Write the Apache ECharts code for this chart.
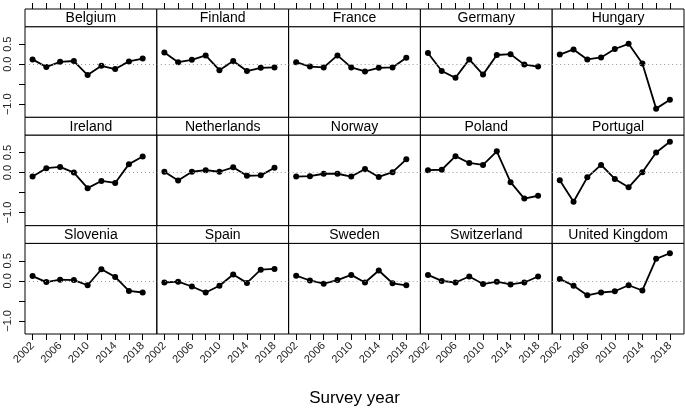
<!DOCTYPE html>
<html><head><meta charset="utf-8">
<script src="https://cdn.jsdelivr.net/npm/echarts@6/dist/echarts.min.js"></script>
<style>html,body{margin:0;padding:0;background:#fff}#c{width:685px;height:409px}</style>
</head><body><div id="c"></div>
<script>
const years = [2002, 2004, 2006, 2008, 2010, 2012, 2014, 2016, 2018];
const xTickValues = [2002, 2004, 2006, 2008, 2010, 2012, 2014, 2016, 2018];
const xLabelValues = [2002, 2006, 2010, 2014, 2018];
const yTickValues = [-1.0, -0.5, 0.0, 0.5];
const yLabelValues = [-1.0, 0.0, 0.5];
const countries = ["Belgium","Finland","France","Germany","Hungary",
  "Ireland","Netherlands","Norway","Poland","Portugal",
  "Slovenia","Spain","Sweden","Switzerland","United Kingdom"];
const belgium     = [0.12, -0.07, 0.06, 0.08, -0.27, -0.04, -0.12, 0.07, 0.14];
const finland     = [0.29, 0.05, 0.11, 0.22, -0.15, 0.08, -0.17, -0.09, -0.08];
const france      = [0.05, -0.06, -0.08, 0.22, -0.08, -0.18, -0.09, -0.08, 0.16];
const germany     = [0.28, -0.17, -0.34, 0.12, -0.26, 0.23, 0.25, -0.01, -0.06];
const hungary     = [0.24, 0.37, 0.12, 0.17, 0.38, 0.51, 0.02, -1.11, -0.89];
const ireland     = [-0.10, 0.11, 0.14, 0.00, -0.39, -0.21, -0.26, 0.21, 0.40];
const netherlands = [0.02, -0.20, 0.02, 0.06, 0.02, 0.13, -0.08, -0.07, 0.12];
const norway      = [-0.10, -0.09, -0.03, -0.03, -0.10, 0.09, -0.11, 0.01, 0.33];
const poland      = [0.06, 0.07, 0.41, 0.24, 0.19, 0.53, -0.24, -0.65, -0.58];
const portugal    = [-0.19, -0.73, -0.12, 0.19, -0.16, -0.37, 0.01, 0.50, 0.77];
const slovenia    = [0.12, -0.03, 0.03, 0.02, -0.11, 0.29, 0.10, -0.25, -0.29];
const spain       = [-0.04, -0.02, -0.14, -0.29, -0.12, 0.16, -0.05, 0.28, 0.30];
const sweden      = [0.13, 0.01, -0.07, 0.02, 0.15, -0.04, 0.26, -0.06, -0.11];
const switzerland = [0.15, 0.00, -0.04, 0.11, -0.08, -0.02, -0.09, -0.04, 0.11];
const uk          = [0.05, -0.12, -0.36, -0.29, -0.26, -0.11, -0.24, 0.55, 0.69];
const allValues = [belgium, finland, france, germany, hungary, ireland, netherlands,
  norway, poland, portugal, slovenia, spain, sweden, switzerland, uk];

const FONT = '"Liberation Sans", Arial, Helvetica, sans-serif';
const L0 = 25, R0 = 684, TOP = 9, BOT = 334;
const colW = (R0 - L0) / 5;
const rowH = (BOT - TOP) / 3;
const stripH = 17.7;
const plotH = rowH - stripH;
const XMIN = 2000.9, XMAX = 2020.05;

const grids = [], xAxes = [], yAxes = [], series = [], graphics = [];
for (let k = 0; k < 15; k++) {
  const r = Math.floor(k / 5), c = k % 5;
  const left = L0 + c * colW;
  const stripTop = TOP + r * rowH;
  const plotTop = stripTop + stripH;
  grids.push({left: left, top: plotTop, width: colW, height: plotH,
    show: true, borderColor: '#000', borderWidth: 1, backgroundColor: 'transparent'});
  const bottomRow = r === 2;
  xAxes.push({type: 'value', gridIndex: k, min: XMIN, max: XMAX, position: 'bottom',
    splitLine: {show: false}, axisLine: {show: false, onZero: false},
    axisTick: {show: bottomRow, length: 6, inside: false, customValues: xTickValues,
      lineStyle: {color: '#000', width: 1}},
    axisLabel: {show: bottomRow, rotate: 45, margin: 10, fontSize: 11, color: '#222',
      fontFamily: FONT, customValues: xLabelValues, formatter: v => String(v)}});
  yAxes.push({type: 'value', gridIndex: k, min: -1.3275, max: 0.9375,
    splitLine: {show: false}, axisLine: {show: false, onZero: false},
    axisTick: {show: c === 0, length: 6, inside: false, customValues: yTickValues,
      lineStyle: {color: '#000', width: 1}},
    axisLabel: {show: c === 0, rotate: 90, margin: 12, fontSize: 11, color: '#222',
      fontFamily: FONT, customValues: yLabelValues,
      formatter: v => (v < 0 ? '\u22121.0' : v.toFixed(1))}});
  series.push({type: 'line', xAxisIndex: k, yAxisIndex: k,
    data: years.map((y, i) => [y, allValues[k][i]]),
    symbol: 'circle', symbolSize: 6, showSymbol: true,
    lineStyle: {color: '#000', width: 1.8}, itemStyle: {color: '#000'},
    markLine: {silent: true, symbol: 'none', label: {show: false},
      lineStyle: {color: '#999', type: [1, 3], width: 1},
      data: [{yAxis: 0}]}});
  graphics.push({type: 'text', x: left + colW / 2, y: stripTop + stripH / 2 + 0.5, z: 11,
    style: {text: countries[k], fill: '#000', font: '14px ' + FONT,
      textAlign: 'center', textVerticalAlign: 'middle'}});
}
// strip grids (headers); top row carries the top ticks
for (let k = 0; k < 15; k++) {
  const r = Math.floor(k / 5), c = k % 5;
  const left = L0 + c * colW;
  const stripTop = TOP + r * rowH;
  const gi = grids.length;
  grids.push({left: left, top: stripTop, width: colW, height: stripH,
    show: true, borderColor: '#000', borderWidth: 1, backgroundColor: '#fff'});
  xAxes.push({type: 'value', gridIndex: gi, min: XMIN, max: XMAX, position: 'top',
    splitLine: {show: false}, axisLine: {show: false, onZero: false}, axisLabel: {show: false},
    axisTick: {show: r === 0, length: 6, inside: false, customValues: xTickValues,
      lineStyle: {color: '#000', width: 1}}});
  yAxes.push({type: 'value', gridIndex: gi, min: 0, max: 1, show: false});
}
graphics.push({type: 'text', x: (L0 + R0) / 2, y: 398, z: 11,
  style: {text: 'Survey year', fill: '#000', font: '17px ' + FONT,
    textAlign: 'center', textVerticalAlign: 'middle'}});

const chart = echarts.init(document.getElementById('c'), null, {renderer: 'canvas'});
chart.setOption({animation: false, backgroundColor: '#fff',
  grid: grids, xAxis: xAxes, yAxis: yAxes, series: series, graphic: graphics});
</script></body></html>
